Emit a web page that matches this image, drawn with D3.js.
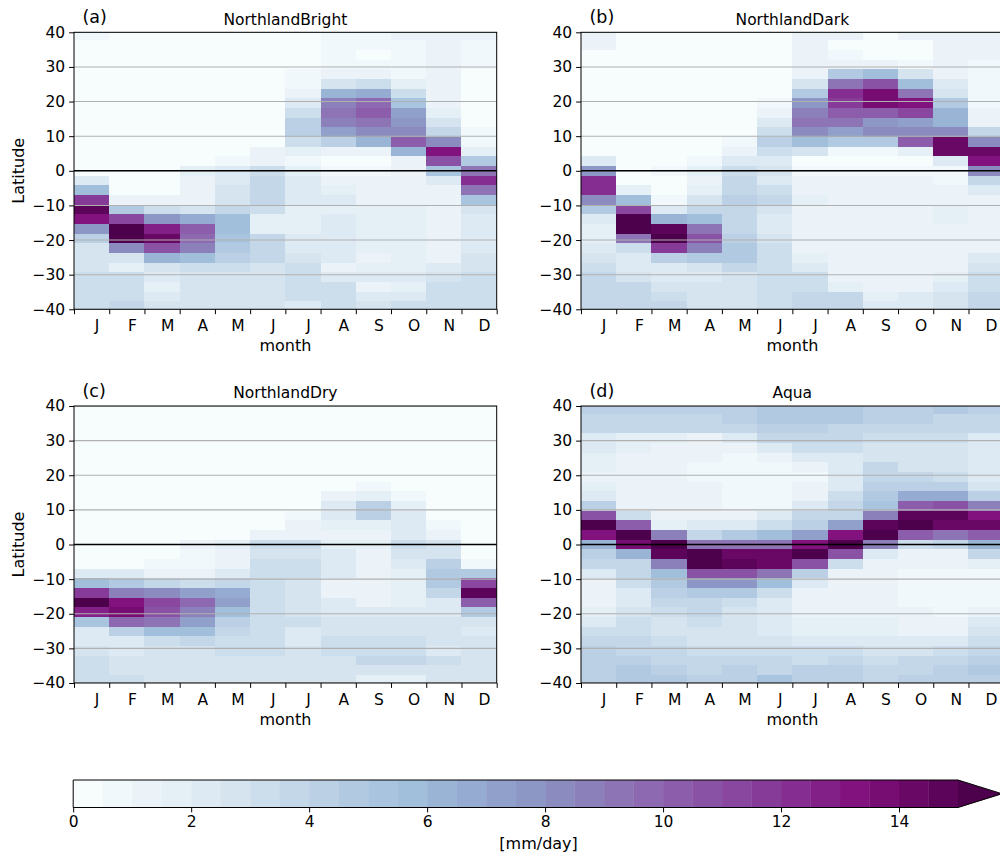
<!DOCTYPE html>
<html><head><meta charset="utf-8">
<script src="https://cdn.jsdelivr.net/npm/d3@7"></script>
<style>body{margin:0;background:#fff;} svg{display:block;}</style>
</head><body>
<svg id="c" width="1000" height="859"></svg>
<script>
// ---------------- data ----------------
const months = ["J","F","M","A","M","J","J","A","S","O","N","D"];
// Gaussian (T42) latitude edges of the mesh, north to south
const latEdges = [40.4572,37.6678,34.8784,32.0887,29.2989,26.5090,23.7190,20.9289,18.1387,15.3484,12.5580,9.7673,6.9767,4.1861,1.3953,
  -1.3953,-4.1861,-6.9767,-9.7673,-12.5580,-15.3484,-18.1387,-20.9289,-23.7190,-26.5090,-29.2989,-32.0887,-34.8784,-37.6678,-40.4572];
const yTicks = [-40,-30,-20,-10,0,10,20,30,40];
const cbarTicks = [0,2,4,6,8,10,12,14];
const levels = [0,0.5,1,1.5,2,2.5,3,3.5,4,4.5,5,5.5,6,6.5,7,7.5,8,8.5,9,9.5,10,10.5,11,11.5,12,12.5,13,13.5,14,14.5,15];
const bupu = ["#f7fcfd","#e0ecf4","#bfd3e6","#9ebcda","#8c96c6","#8c6bb1","#88419d","#810f7c","#4d004b"];

// precipitation [mm/day], rows = latitude cells (north -> south), columns = months
const bright = [
[0.7,0.2,0.2,0.2,0.2,0.2,0.2,0.7,0.7,1.2,1.2,1.2],
[0.2,0.2,0.2,0.2,0.2,0.2,0.2,0.7,0.7,0.7,1.2,0.9],
[0.2,0.2,0.2,0.2,0.2,0.2,0.2,0.7,0.2,0.7,1.2,0.9],
[0.2,0.2,0.2,0.2,0.2,0.2,0.2,0.7,0.7,0.7,1.2,0.9],
[0.2,0.2,0.2,0.2,0.2,0.2,0.7,1.2,1.2,0.7,1.2,0.2],
[0.2,0.2,0.2,0.2,0.2,0.2,0.7,2.7,3.2,1.7,1.2,0.2],
[0.2,0.2,0.2,0.2,0.2,0.2,1.2,6.4,6.9,3.2,1.2,0.2],
[0.2,0.2,0.2,0.2,0.2,0.2,2.2,8.7,9.9,5.2,1.2,0.2],
[0.2,0.2,0.2,0.2,0.2,0.2,3.2,9.2,10.2,7.3,1.7,0.2],
[0.2,0.2,0.2,0.2,0.2,0.2,4.2,8.7,9.0,7.7,2.7,0.2],
[0.2,0.2,0.2,0.2,0.2,0.2,4.2,7.0,8.2,8.2,3.7,0.7],
[0.2,0.2,0.2,0.2,0.2,0.4,3.2,4.2,6.2,10.4,8.2,0.7],
[0.2,0.2,0.2,0.2,0.2,1.2,1.7,1.2,1.2,6.2,13.2,1.7],
[0.2,0.2,0.2,0.2,0.7,1.2,0.7,0.2,0.2,1.2,10.7,4.7],
[0.4,0.2,0.2,1.7,2.2,3.2,1.7,0.7,0.7,1.2,5.2,9.4],
[2.2,0.2,0.2,1.2,2.2,3.5,2.2,1.2,1.2,1.2,2.2,12.2],
[5.7,0.2,0.2,1.2,2.7,3.7,2.2,1.7,1.2,1.2,1.2,9.4],
[11.7,1.2,1.2,1.2,2.7,3.7,2.2,2.2,1.2,1.2,1.2,5.2],
[14.7,4.7,3.2,2.7,3.7,3.2,1.7,1.9,1.7,1.7,1.2,2.5],
[13.2,11.2,7.7,6.7,5.7,1.7,1.7,2.0,1.7,1.7,1.2,2.2],
[7.7,15.5,12.7,10.2,5.7,1.7,1.7,2.0,1.7,1.7,1.2,2.0],
[4.2,15.5,14.2,9.5,5.2,3.5,2.2,2.0,1.7,1.7,1.2,2.0],
[2.7,8.0,10.7,8.7,4.7,3.7,2.2,2.0,1.7,1.7,1.2,2.2],
[2.7,2.7,6.2,5.7,4.2,3.7,2.7,2.0,1.2,1.7,1.2,2.7],
[2.7,1.7,2.7,3.2,3.2,2.7,3.2,1.2,1.7,1.7,2.2,2.7],
[3.2,3.2,2.2,2.7,2.7,2.7,3.2,2.2,2.2,2.2,2.7,3.2],
[3.2,3.2,1.7,2.7,2.7,2.7,3.2,3.0,1.2,1.7,3.2,3.2],
[3.2,3.2,2.2,2.7,2.7,2.7,3.2,3.0,2.2,2.2,3.2,3.2],
[3.2,3.7,2.7,2.7,2.7,2.7,2.2,3.2,2.7,3.2,3.2,3.2]];

const dark = [
[1.0,0.2,0.2,0.2,0.2,0.2,1.2,1.0,0.2,1.2,1.2,1.2],
[1.0,0.2,0.2,0.2,0.2,0.2,1.2,0.2,0.2,0.2,1.2,1.2],
[0.2,0.2,0.2,0.2,0.2,0.2,1.2,0.7,0.2,0.2,1.2,1.2],
[0.2,0.2,0.2,0.2,0.2,0.2,1.2,1.2,1.2,0.7,1.2,0.7],
[0.2,0.2,0.2,0.2,0.2,0.2,1.2,4.5,5.5,2.7,1.2,0.7],
[0.2,0.2,0.2,0.2,0.2,0.2,2.7,9.2,10.7,5.7,2.0,0.7],
[0.2,0.2,0.2,0.2,0.2,0.2,4.7,12.0,13.5,9.0,2.7,0.7],
[0.2,0.2,0.2,0.2,0.2,0.7,7.7,11.8,13.5,13.0,4.7,0.7],
[0.2,0.2,0.2,0.2,0.2,1.2,8.7,10.2,10.2,11.2,6.2,1.2],
[0.2,0.2,0.2,0.2,0.2,2.2,9.2,9.2,7.7,7.0,6.2,1.2],
[0.2,0.2,0.2,0.2,0.2,3.2,8.0,7.0,8.2,8.2,8.2,3.7],
[0.2,0.2,0.2,0.2,0.7,4.2,5.7,4.7,4.7,10.2,14.2,8.2],
[0.2,0.2,0.2,0.2,1.2,3.2,2.7,0.7,0.7,1.7,14.2,14.2],
[2.2,0.2,0.2,0.7,2.2,2.2,0.2,0.2,0.2,0.2,2.2,13.3],
[7.5,0.2,0.7,1.7,3.2,2.5,0.7,0.5,0.5,0.5,0.7,8.2],
[12.2,0.2,0.2,1.2,3.7,2.2,1.2,1.2,1.2,1.2,0.7,3.7],
[12.2,1.7,0.2,1.7,3.7,3.2,1.2,1.2,1.2,1.2,1.2,2.2],
[8.2,5.7,0.7,2.7,4.2,3.7,1.7,1.2,1.2,1.2,1.2,1.2],
[4.7,11.2,2.2,3.7,3.7,2.7,1.2,1.2,1.2,1.2,1.7,1.2],
[2.2,15.5,6.2,5.7,3.7,2.2,1.2,1.2,1.2,1.2,1.7,1.2],
[1.7,15.5,14.7,9.2,3.7,2.2,1.2,1.2,1.2,1.2,1.2,1.2],
[1.7,9.2,15.2,10.7,4.2,2.7,1.2,1.2,1.2,1.2,1.2,1.2],
[2.2,3.2,11.7,8.7,4.7,3.2,1.2,1.2,1.2,1.2,1.2,1.2],
[2.7,2.2,4.2,4.7,4.7,3.2,1.7,1.2,1.2,1.2,1.2,2.2],
[3.2,2.2,2.2,2.7,3.7,3.2,2.2,1.2,1.2,1.2,1.2,2.7],
[3.7,2.7,2.2,2.2,2.7,3.2,3.2,1.2,1.2,1.2,1.7,3.2],
[3.7,3.7,2.7,2.7,2.7,3.2,3.2,1.7,1.2,1.2,2.2,3.2],
[3.7,3.7,3.2,2.7,2.7,3.2,3.7,3.7,1.7,2.2,2.7,3.7],
[3.7,3.7,3.7,2.7,2.7,3.2,3.7,3.7,2.2,2.2,2.7,3.7]];

const dry = [
[0.2,0.2,0.2,0.2,0.2,0.2,0.2,0.2,0.2,0.2,0.2,0.2],
[0.2,0.2,0.2,0.2,0.2,0.2,0.2,0.2,0.2,0.2,0.2,0.2],
[0.2,0.2,0.2,0.2,0.2,0.2,0.2,0.2,0.2,0.2,0.2,0.2],
[0.2,0.2,0.2,0.2,0.2,0.2,0.2,0.2,0.2,0.2,0.2,0.2],
[0.2,0.2,0.2,0.2,0.2,0.2,0.2,0.2,0.2,0.2,0.2,0.2],
[0.2,0.2,0.2,0.2,0.2,0.2,0.2,0.2,0.2,0.2,0.2,0.2],
[0.2,0.2,0.2,0.2,0.2,0.2,0.2,0.2,0.2,0.2,0.2,0.2],
[0.2,0.2,0.2,0.2,0.2,0.2,0.2,0.2,0.2,0.2,0.2,0.2],
[0.2,0.2,0.2,0.2,0.2,0.2,0.2,0.2,0.7,0.2,0.2,0.2],
[0.2,0.2,0.2,0.2,0.2,0.2,0.2,1.2,1.7,0.7,0.2,0.2],
[0.2,0.2,0.2,0.2,0.2,0.2,0.2,2.2,4.2,1.7,0.2,0.2],
[0.2,0.2,0.2,0.2,0.2,0.2,0.7,2.2,4.2,2.2,0.2,0.2],
[0.2,0.2,0.2,0.2,0.2,0.2,1.2,1.7,1.7,2.2,0.7,0.2],
[0.2,0.2,0.2,0.2,0.2,1.2,1.2,1.2,1.2,2.2,1.2,0.2],
[0.2,0.2,0.2,1.2,1.7,3.2,3.2,1.7,1.7,3.2,2.7,0.2],
[0.2,0.2,0.2,0.7,1.2,2.7,2.7,2.2,1.2,2.7,2.7,0.2],
[0.2,0.2,0.7,0.7,1.2,3.2,3.2,2.2,1.2,2.2,4.2,0.7],
[2.2,2.2,1.2,1.2,2.2,3.2,3.2,2.2,1.2,1.7,4.7,4.7],
[5.7,4.7,3.7,3.2,3.7,3.2,2.7,1.2,1.2,1.7,4.7,11.2],
[11.7,8.7,8.2,7.3,6.7,3.2,2.7,1.2,1.2,1.7,3.7,14.7],
[15.5,13.2,11.2,9.5,7.3,3.2,2.7,2.2,1.2,1.7,2.2,10.2],
[12.7,13.5,10.7,8.7,5.7,3.2,2.7,2.2,2.2,2.2,2.2,4.7],
[5.2,9.7,9.2,7.3,4.2,3.2,3.2,2.7,2.7,2.7,2.7,2.7],
[2.2,4.2,5.7,5.5,3.7,3.2,2.2,2.7,2.7,2.7,2.7,2.2],
[2.2,2.2,3.2,3.7,3.2,3.2,2.2,3.2,3.2,3.2,2.7,2.7],
[2.7,2.2,2.7,2.7,3.2,3.2,2.7,3.2,3.2,3.2,2.2,2.7],
[3.2,2.7,2.7,2.7,2.7,2.7,2.7,2.7,3.7,3.7,3.2,2.7],
[3.2,2.7,2.7,2.7,2.7,2.7,2.7,2.7,2.7,2.7,2.7,2.7],
[3.2,3.2,2.7,2.7,2.7,2.7,2.7,2.7,1.7,1.7,2.7,2.7]];

const aqua = [
[4.2,4.2,4.2,4.2,4.2,4.7,4.7,4.7,4.2,4.2,4.7,4.2],
[3.7,3.7,3.7,3.7,4.2,4.7,4.7,4.7,4.2,4.2,3.7,3.7],
[3.7,3.7,3.7,3.7,3.7,4.2,4.2,3.7,3.7,3.7,3.7,3.7],
[2.2,1.7,1.7,1.2,2.2,3.7,3.7,3.7,3.2,3.2,3.2,2.2],
[2.2,1.7,1.2,1.2,1.2,2.2,3.2,3.2,2.7,2.7,2.7,2.2],
[1.7,1.2,1.2,1.2,0.7,1.2,2.2,2.2,2.7,2.7,2.7,2.2],
[1.7,1.2,1.2,0.7,0.7,0.7,1.2,2.2,3.7,2.7,2.7,2.2],
[1.2,1.2,1.2,0.7,0.7,0.7,0.7,2.2,3.7,3.7,3.2,2.2],
[1.7,1.2,1.2,1.2,0.7,0.7,1.2,2.2,4.2,4.2,4.2,2.7],
[2.2,1.2,1.2,1.2,0.7,0.7,1.2,3.2,4.7,6.7,6.7,4.2],
[4.2,1.2,1.2,1.2,0.7,0.7,2.2,3.7,5.2,10.2,10.7,8.7],
[10.5,3.2,1.2,1.2,1.2,2.2,3.7,3.7,8.7,14.7,14.7,13.3],
[15.5,10.2,1.7,2.2,2.2,3.2,4.2,7.0,14.7,15.5,14.2,14.2],
[13.2,15.5,8.7,3.7,4.7,5.7,7.3,13.3,15.5,10.2,9.2,10.2],
[6.2,13.5,15.5,9.2,9.2,9.2,13.2,15.2,8.7,3.2,3.7,6.2],
[4.2,6.2,14.7,15.5,14.2,14.2,15.5,10.7,2.2,1.2,1.2,3.7],
[3.7,3.7,8.7,15.5,14.7,14.2,10.7,3.2,1.2,1.2,1.2,1.7],
[2.2,3.7,5.5,10.7,10.7,9.2,4.2,1.2,1.2,0.7,0.7,0.7],
[1.2,3.2,4.7,7.7,7.7,5.5,2.2,1.2,1.2,0.7,0.7,0.7],
[1.2,2.2,4.2,4.7,4.7,3.2,1.2,1.2,1.2,0.7,0.7,0.7],
[1.2,2.2,3.7,3.7,3.2,2.2,1.2,1.2,1.2,0.7,0.7,0.7],
[1.7,2.7,3.2,3.7,2.7,2.2,1.2,1.2,1.2,1.2,0.7,1.2],
[2.2,3.2,2.7,3.2,2.7,2.2,1.7,1.7,1.7,1.2,1.2,2.2],
[3.2,3.2,2.7,2.7,2.7,2.2,1.7,1.7,1.7,1.2,1.2,2.7],
[3.7,3.7,3.2,2.7,2.7,2.7,2.2,2.2,2.2,2.2,2.2,3.2],
[4.2,3.7,3.7,3.2,3.2,3.2,3.2,3.2,2.7,2.7,3.2,3.7],
[4.2,4.2,3.7,3.7,3.7,3.7,3.2,3.7,3.2,3.7,3.7,4.2],
[4.2,4.7,4.2,3.7,4.2,3.7,4.2,4.2,3.7,3.7,4.2,4.7],
[4.2,4.7,4.7,4.2,4.2,5.2,4.2,4.2,3.7,4.2,4.2,4.2]];

const titles = ["NorthlandBright","NorthlandDark","NorthlandDry","Aqua"];
const tags = ["(a)","(b)","(c)","(d)"];

// ---------------- colour scale (BuPu, 0.5 mm/day levels, extend max) ----------------
const cmap = d3.piecewise(d3.interpolateRgb, bupu);
const nBins = levels.length - 1;               // 30
const binColors = d3.range(nBins + 1).map(i => cmap(Math.floor(i * 255 / nBins) / 255));
const color = d3.scaleThreshold().domain(levels.slice(1)).range(binColors);

// ---------------- layout ----------------
const FONT = "DejaVu Sans";
const W = 422.7, H = 277;
const layout = [{x:74,y:32.3,ylab:true},{x:581,y:32.3,ylab:false},{x:74,y:406,ylab:true},{x:581,y:406,ylab:false}];
const datasets = [bright, dark, dry, aqua];

const svg = d3.select("#c");
svg.append("rect").attr("width",1000).attr("height",859).attr("fill","#fff");

function styleAxis(g, fs){
  g.select(".domain").remove();
  g.attr("font-family", null).attr("font-size", null);
  g.selectAll("text").attr("font-family", FONT).attr("font-size", fs).attr("fill", "#000");
  g.selectAll("line").attr("stroke", "#000").attr("stroke-width", 1);
}

datasets.forEach((vals, k) => {
  const L = layout[k];
  const g = svg.append("g").attr("transform", `translate(${L.x},${L.y})`);
  const x = d3.scaleLinear().domain([0, 12]).range([0, W]);
  const y = d3.scaleLinear().domain([-40, 40]).range([H, 0]);

  const clipId = "clip" + k;
  g.append("clipPath").attr("id", clipId).append("rect").attr("width", W).attr("height", H);
  const plot = g.append("g").attr("clip-path", `url(#${clipId})`);

  const cells = [];
  vals.forEach((row, r) => row.forEach((v, c) => cells.push({r, c, v})));
  plot.selectAll("rect.cell").data(cells).join("rect")
    .attr("class", "cell")
    .attr("x", d => x(d.c))
    .attr("width", d => x(d.c + 1) - x(d.c))
    .attr("y", d => y(latEdges[d.r]))
    .attr("height", d => y(latEdges[d.r + 1]) - y(latEdges[d.r]))
    .attr("fill", d => color(d.v))
    .attr("shape-rendering", "crispEdges");

  // grid lines
  plot.selectAll("line.grid").data(yTicks).join("line")
    .attr("class", "grid")
    .attr("x1", 0).attr("x2", W)
    .attr("y1", d => y(d)).attr("y2", d => y(d))
    .attr("stroke", "#b0b0b0").attr("stroke-width", 1.1);
  // zero line
  plot.append("line").attr("x1", 0).attr("x2", W).attr("y1", y(0)).attr("y2", y(0))
    .attr("stroke", "#000").attr("stroke-width", 1.6);

  // spines
  g.append("rect").attr("width", W).attr("height", H).attr("fill", "none")
    .attr("stroke", "#000").attr("stroke-width", 1);

  // y axis
  const ya = g.append("g").call(d3.axisLeft(y).tickValues(yTicks).tickSize(4.9).tickPadding(4));
  styleAxis(ya, 15.5);

  // x axis: ticks at month boundaries, labels at month centres
  const xa = g.append("g").attr("transform", `translate(0,${H})`)
    .call(d3.axisBottom(x).tickValues(d3.range(13)).tickSize(4.9).tickFormat(() => ""));
  styleAxis(xa, 15.5);
  g.append("g").selectAll("text").data(months).join("text")
    .attr("x", (d, i) => x(i + 0.5) + 5.5)
    .attr("y", H + 22)
    .attr("text-anchor", "middle")
    .attr("font-family", FONT).attr("font-size", 15.5).attr("fill", "#000")
    .text(d => d);

  g.append("text").attr("x", W / 2).attr("y", H + 42).attr("text-anchor", "middle")
    .attr("font-family", FONT).attr("font-size", 16).attr("fill", "#000").text("month");

  if (L.ylab) {
    g.append("text").attr("transform", `translate(-50,${H / 2}) rotate(-90)`)
      .attr("text-anchor", "middle")
      .attr("font-family", FONT).attr("font-size", 16).attr("fill", "#000").text("Latitude");
  }

  g.append("text").attr("x", W / 2).attr("y", -7.7).attr("text-anchor", "middle")
    .attr("font-family", FONT).attr("font-size", 15.5).attr("fill", "#000").text(titles[k]);
  g.append("text").attr("x", 8.5).attr("y", -9).attr("text-anchor", "start")
    .attr("font-family", FONT).attr("font-size", 17.5).attr("fill", "#000").text(tags[k]);
});

// ---------------- colour bar ----------------
const cb = {x0: 73.2, x1: 958, y0: 780, y1: 807.5, tip: 1002};
const cx = d3.scaleLinear().domain([levels[0], levels[levels.length - 1]]).range([cb.x0, cb.x1]);
const cg = svg.append("g");
cg.selectAll("rect").data(d3.range(nBins)).join("rect")
  .attr("x", i => cx(levels[i]))
  .attr("width", i => cx(levels[i + 1]) - cx(levels[i]) + 0.3)
  .attr("y", cb.y0).attr("height", cb.y1 - cb.y0)
  .attr("fill", i => binColors[i]);
cg.append("path")
  .attr("d", `M${cb.x1},${cb.y0}L${cb.tip},${(cb.y0 + cb.y1) / 2}L${cb.x1},${cb.y1}Z`)
  .attr("fill", binColors[nBins]);
cg.append("path")
  .attr("d", `M${cb.x0},${cb.y0}L${cb.x1},${cb.y0}L${cb.tip},${(cb.y0 + cb.y1) / 2}L${cb.x1},${cb.y1}L${cb.x0},${cb.y1}Z`)
  .attr("fill", "none").attr("stroke", "#000").attr("stroke-width", 1);
const ca = cg.append("g").attr("transform", `translate(0,${cb.y1})`)
  .call(d3.axisBottom(cx).tickValues(cbarTicks).tickSize(4.9).tickPadding(3.5).tickFormat(d3.format("d")));
styleAxis(ca, 15.5);
cg.append("text").attr("x", (cb.x0 + cb.tip) / 2 + 1).attr("y", 849).attr("text-anchor", "middle")
  .attr("font-family", FONT).attr("font-size", 16).attr("fill", "#000").text("[mm/day]");
</script>
</body></html>
